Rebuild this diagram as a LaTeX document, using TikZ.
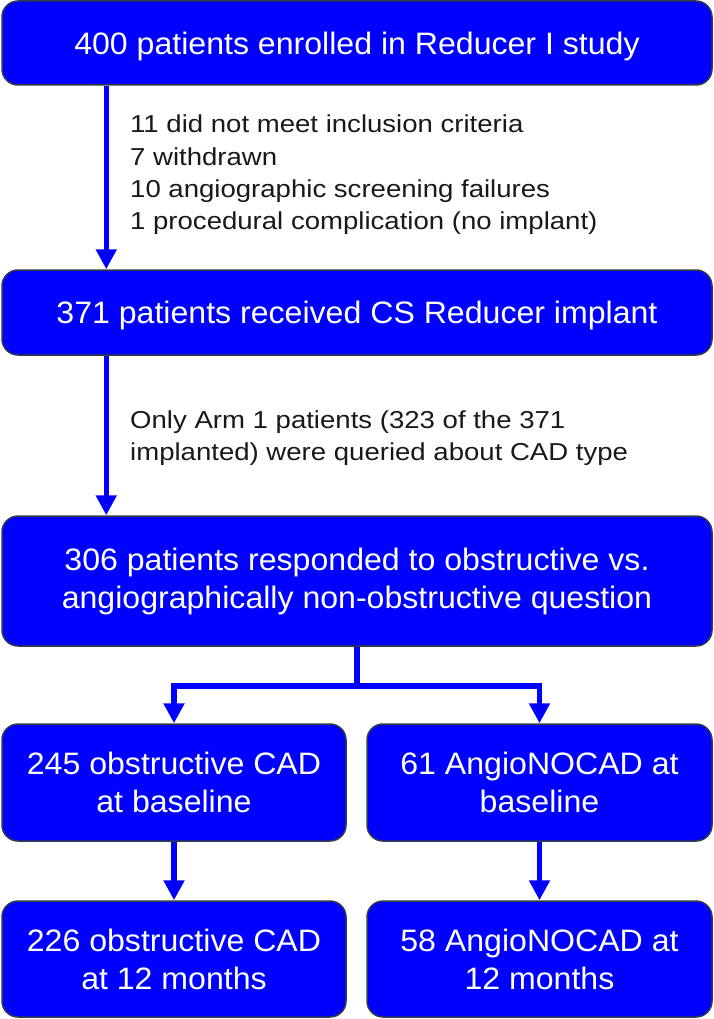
\documentclass[tikz,border=0pt]{standalone}
\usepackage{fontspec}
\setmainfont{Liberation Sans}
\newfontfamily\boxfont[FakeStretch=1.035]{Liberation Sans}
\newfontfamily\notefont[FakeStretch=1.125]{Liberation Sans}
\usetikzlibrary{arrows.meta}
\definecolor{boxblue}{RGB}{0,0,255}
\definecolor{edgegray}{RGB}{50,60,75}
\definecolor{notetext}{RGB}{25,25,25}
\begin{document}
\begin{tikzpicture}[x=1pt,y=-1pt,
  box/.style={draw=edgegray, line width=1.5pt, fill=boxblue, rounded corners=16pt,
    text=white, font=\boxfont\fontsize{31}{38}\selectfont, align=center, inner sep=0pt},
  oneline/.style={text height=22.2pt, text depth=0pt},
  link/.style={draw=boxblue, line width=5.5pt},
  conn/.style={link, -{Triangle[width=20pt,length=20pt]}},
  note/.style={font=\notefont\fontsize{24.5}{32.3}\selectfont, text=notetext, align=left, anchor=west, inner sep=0pt}]
\useasboundingbox (0,0) rectangle (714,1019);

\node[box, oneline, minimum width=710pt, minimum height=84pt] (b1) at (357,43) {400 patients enrolled in Reducer I study};
\node[box, oneline, minimum width=710pt, minimum height=85pt] (b2) at (357,312.5) {371 patients received CS Reducer implant};
\node[box, minimum width=710pt, minimum height=130pt] (b3) at (357,581) {306 patients responded to obstructive vs.\\angiographically non-obstructive question};
\node[box, minimum width=344pt, minimum height=117pt] (b4l) at (174,782.5) {245 obstructive CAD\\at baseline};
\node[box, minimum width=345pt, minimum height=117pt] (b4r) at (539.5,782.5) {61 AngioNOCAD at\\baseline};
\node[box, minimum width=344pt, minimum height=116pt] (b5l) at (174,959) {226 obstructive CAD\\at 12 months};
\node[box, minimum width=345pt, minimum height=116pt] (b5r) at (539.5,959) {58 AngioNOCAD at\\12 months};

\node[note] (n1) at (130,175) {11 did not meet inclusion criteria\\7 withdrawn\\10 angiographic screening failures\\1 procedural complication (no implant)};
\node[note] (n2) at (130,438.5) {Only Arm 1 patients (323 of the 371\\implanted) were queried about CAD type};

\draw[conn] ([xshift=105pt]b1.south west) -- ([xshift=105pt]b2.north west);
\draw[conn] ([xshift=105pt]b2.south west) -- ([xshift=105pt]b3.north west);

\coordinate (split) at (357,686);
\draw[link] (b3.south) -- (split);
\draw[conn] (split) -| (b4l.north);
\draw[conn] (split) -| (b4r.north);

\draw[conn] (b4l.south) -- (b5l.north);
\draw[conn] (b4r.south) -- (b5r.north);
\end{tikzpicture}
\end{document}
